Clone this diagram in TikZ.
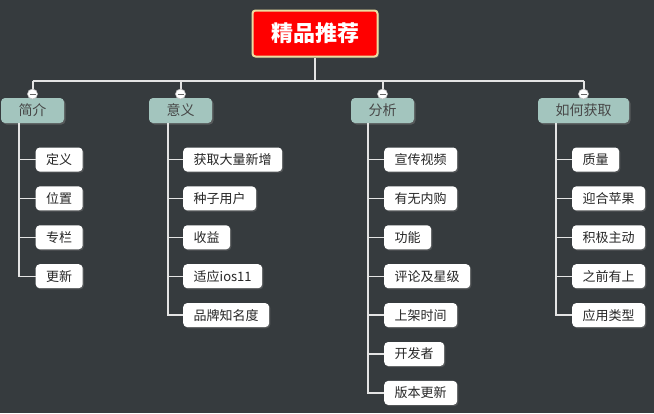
\documentclass[tikz,border=0pt]{standalone}
\usepackage{fontspec}
\setmainfont{Noto Sans CJK SC}
\usetikzlibrary{calc,shadows}
\definecolor{bg}{RGB}{54,59,62}
\definecolor{lvone}{RGB}{163,197,190}
\definecolor{rootborder}{RGB}{236,221,160}
\definecolor{linec}{RGB}{228,228,228}
\tikzset{
  rootbox/.style={draw=rootborder, line width=2pt, fill=red, rounded corners=3pt, text=white,
    font=\fontsize{22}{24}\selectfont\bfseries, minimum width=125pt, minimum height=46pt, inner sep=0pt,
    drop shadow={shadow xshift=1.5pt, shadow yshift=-1.5pt, opacity=0.4}},
  topic/.style={fill=lvone, rounded corners=4pt, text=black!72, font=\fontsize{14}{16}\selectfont,
    minimum height=25pt, inner xsep=17.5pt, inner ysep=0pt,
    drop shadow={shadow xshift=1.5pt, shadow yshift=-1.5pt, opacity=0.45}},
  leaf/.style={fill=white, rounded corners=4pt, text=black!85, font=\fontsize{13}{15}\selectfont,
    minimum height=24pt, inner xsep=10.5pt, inner ysep=0pt, anchor=west,
    drop shadow={shadow xshift=1.2pt, shadow yshift=-1.2pt, opacity=0.4}},
  conn/.style={draw=linec, line width=2pt},
  sub/.style={draw=linec, line width=1.4pt},
  fold/.style={circle, fill=white, draw=gray!50, line width=0.6pt, minimum size=10pt, inner sep=0pt,
    path picture={\draw[gray!80!black, line width=1pt]
      ($(path picture bounding box.west)+(2pt,0)$) -- ($(path picture bounding box.east)+(-2pt,0)$);}}
}
\begin{document}
\begin{tikzpicture}[x=1pt,y=-1pt]
\fill[bg] (0,0) rectangle (654,413);
\useasboundingbox (0,0) rectangle (654,413);

% root
\node[rootbox] (root) at (315,33.5) {精品推荐};

% bus
\coordinate (busL) at (32.5,81);
\coordinate (busR) at (583.5,81);
\draw[conn] (root.south) -- (root.south |- busL);
\draw[conn] (busL) -- (busR);

% topics
\node[topic] (t1) at (32.5,110.5) {简介};
\node[topic] (t2) at (180.5,110.5) {意义};
\node[topic] (t3) at (382.5,110.5) {分析};
\node[topic] (t4) at (583.5,110.5) {如何获取};

\foreach \i in {1,...,4}{
  \coordinate (b\i) at (t\i.north |- busL);
}
\draw[conn] (b1) -- (t1.north);
\draw[conn] (b2) -- (t2.north);
\draw[conn] (b3) -- (t3.north);
\draw[conn] (b4) -- (t4.north);

\node[fold] (f1) at (t1.north |- 0,94) {};
\node[fold] (f2) at (t2.north |- 0,94) {};
\node[fold] (f3) at (t3.north |- 0,94) {};
\node[fold] (f4) at (t4.north |- 0,94) {};

% leaves: 简介
\node[leaf] (a1) at (35.5,159.5) {定义};
\node[leaf] (a2) at (35.5,198.4) {位置};
\node[leaf] (a3) at (35.5,237.3) {专栏};
\node[leaf] (a4) at (35.5,276.2) {更新};
\foreach \j in {1,...,4}{
  \draw[sub] ($(t1.south west)+(18,0)$) |- (a\j.west);
}

% leaves: 意义
\node[leaf] (b1n) at (183,159.5) {获取大量新增};
\node[leaf] (b2n) at (183,198.4) {种子用户};
\node[leaf] (b3n) at (183,237.3) {收益};
\node[leaf] (b4n) at (183,276.2) {适应ios11};
\node[leaf] (b5n) at (183,315.1) {品牌知名度};
\foreach \j in {1,...,5}{
  \draw[sub] ($(t2.south west)+(19,0)$) |- (b\j n.west);
}

% leaves: 分析
\node[leaf] (c1) at (384,159.5) {宣传视频};
\node[leaf] (c2) at (384,198.4) {有无内购};
\node[leaf] (c3) at (384,237.3) {功能};
\node[leaf] (c4) at (384,276.2) {评论及星级};
\node[leaf] (c5) at (384,315.1) {上架时间};
\node[leaf] (c6) at (384,354.0) {开发者};
\node[leaf] (c7) at (384,392.9) {版本更新};
\foreach \j in {1,...,7}{
  \draw[sub] ($(t3.south west)+(17,0)$) |- (c\j.west);
}

% leaves: 如何获取
\node[leaf] (d1) at (572,159.5) {质量};
\node[leaf] (d2) at (572,198.4) {迎合苹果};
\node[leaf] (d3) at (572,237.3) {积极主动};
\node[leaf] (d4) at (572,276.2) {之前有上};
\node[leaf] (d5) at (572,315.1) {应用类型};
\foreach \j in {1,...,5}{
  \draw[sub] ($(t4.south west)+(18,0)$) |- (d\j.west);
}
\end{tikzpicture}
\end{document}
